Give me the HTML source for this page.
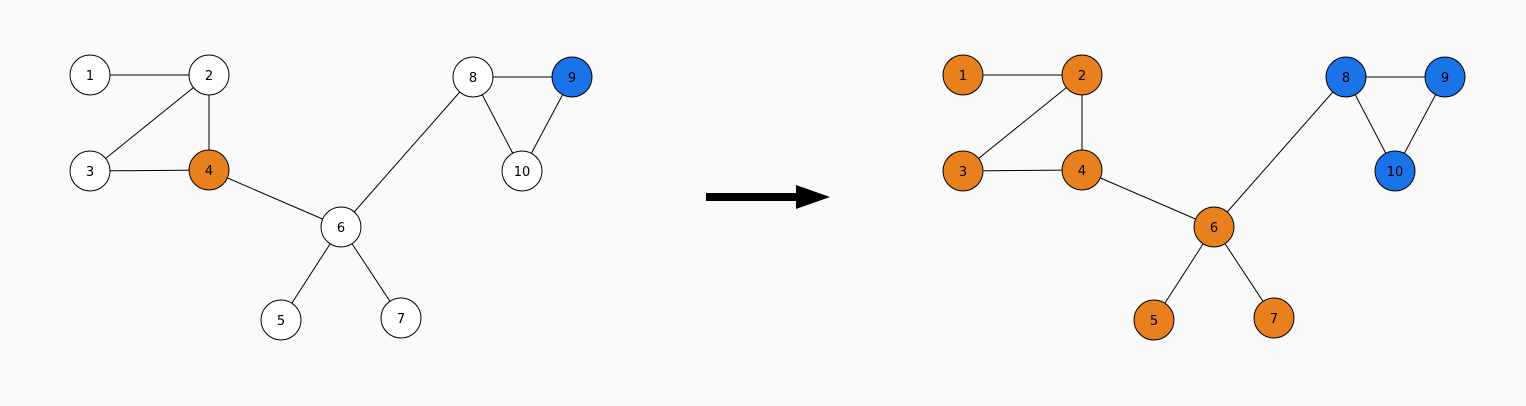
<!DOCTYPE html>
<html><head><meta charset="utf-8"><style>
html,body{margin:0;padding:0;background:#fafafa;}
svg{display:block;}
text{font-family:"DejaVu Sans","Liberation Sans",sans-serif;font-size:13px;fill:#000;}
</style></head><body>
<svg id="g" width="1526" height="406">
<rect width="1526" height="406" fill="#fafafa"/>
<g id="arrow">
<rect x="706" y="193" width="96" height="8" fill="#000"/>
<polygon points="796,185 830,197 796,209" fill="#000"/>
</g>
</svg>
<script>
const nodeIds = [1,2,3,4,5,6,7,8,9,10];
const nodeX = [90,209,90,209,281,341,401,473,572,522];
const nodeY = [75,75,171,170,320,227,318,77,77,171];
const edges = [[1,2],[2,3],[2,4],[3,4],[4,6],[6,5],[6,7],[6,8],[8,9],[8,10],[9,10]];
const leftColors = ['w','w','w','o','w','w','w','w','b','w'];
const rightColors = ['o','o','o','o','o','o','o','b','b','b'];
const offsets = [0,873];
const palette = {w:'#ffffff',o:'#e8801e',b:'#1a73e8'};
const NS='http://www.w3.org/2000/svg';
const svg=document.getElementById('g');
[leftColors,rightColors].forEach((cols,gi)=>{
  const dx=offsets[gi];
  const grp=document.createElementNS(NS,'g');
  
  
  svg.appendChild(grp);
  edges.forEach(([a,b])=>{
    const l=document.createElementNS(NS,'line');
    l.setAttribute('x1',nodeX[a-1]+dx);l.setAttribute('y1',nodeY[a-1]);
    l.setAttribute('x2',nodeX[b-1]+dx);l.setAttribute('y2',nodeY[b-1]);
    l.setAttribute('stroke','#000');l.setAttribute('stroke-width','1');
    
    
    grp.appendChild(l);
  });
  nodeIds.forEach((id,i)=>{
    const c=document.createElementNS(NS,'circle');
    c.setAttribute('cx',nodeX[i]+dx);c.setAttribute('cy',nodeY[i]);c.setAttribute('r',20);
    c.setAttribute('fill',palette[cols[i]]);c.setAttribute('stroke','#000');c.setAttribute('stroke-width','1');
    
    
    grp.appendChild(c);
    const t=document.createElementNS(NS,'text');
    t.setAttribute('x',nodeX[i]+dx);t.setAttribute('y',nodeY[i]+5);t.setAttribute('text-anchor','middle');
    t.textContent=id;
    
    
    grp.appendChild(t);
  });
});
</script>
</body></html>
